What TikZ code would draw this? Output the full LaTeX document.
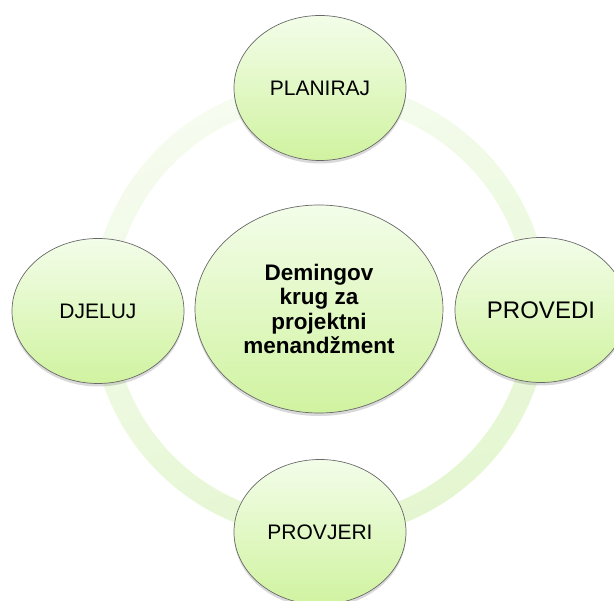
\documentclass[tikz,border=0pt]{standalone}
\usepackage{fontspec}
\setmainfont{Liberation Sans}
\usetikzlibrary{shapes.geometric,shadows}
\definecolor{ringlight}{RGB}{246,252,240}
\definecolor{ringdark}{RGB}{228,246,208}
\definecolor{leaflight}{RGB}{243,253,233}
\definecolor{leafdark}{RGB}{208,243,160}
\definecolor{rimgray}{RGB}{105,105,105}

\begin{document}
\begin{tikzpicture}[x=1pt,y=-1pt,
		phase/.style={ellipse,draw=rimgray,line width=.7pt,top color=leaflight,bottom color=leafdark,
			minimum width=172pt,minimum height=145pt,inner sep=0pt,
			drop shadow={opacity=.3,shadow xshift=0pt,shadow yshift=-3pt},
			font=\fontsize{21}{25}\selectfont},
		core/.style={phase,minimum width=248pt,minimum height=208pt,align=center,
			font=\fontsize{22.5}{24.5}\selectfont\bfseries}]
	\useasboundingbox (0,0) rectangle (614,601);
	\coordinate (mid) at (320,310);
	% ring behind the four phases
	\shade[even odd rule,top color=ringlight,bottom color=ringdark,shading angle=20]
		(mid) circle[radius=229pt] (mid) circle[radius=207pt];
	\node[core] (hub) at (319,309) {Demingov\\krug za\\projektni\\menand\v{z}ment};
	\node[phase] (plan) at (320,88) {PLANIRAJ};
	\node[phase] (act) at (98,311) {DJELUJ};
	\node[phase,font=\fontsize{24}{28}\selectfont] (do) at (541,310) {PROVEDI};
	\node[phase] (check) at (320,532) {PROVJERI};
\end{tikzpicture}
\end{document}
